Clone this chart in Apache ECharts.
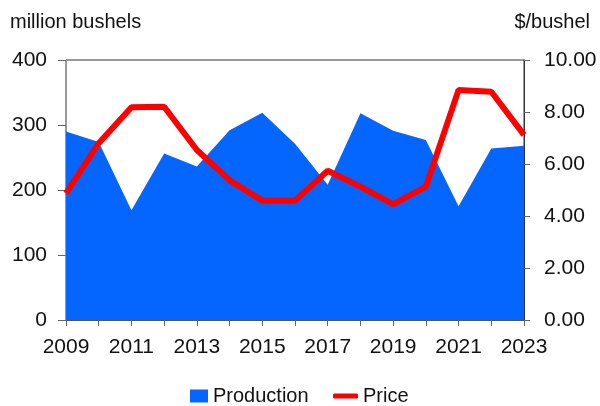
<!DOCTYPE html>
<html><head><meta charset="utf-8">
<script src="https://cdn.jsdelivr.net/npm/echarts@6/dist/echarts.min.js"></script>
<style>html,body{margin:0;padding:0;background:#fff}#c{width:600px;height:406px}</style>
</head><body><div id="c"></div>
<script>
const years = ['2009','2010','2011','2012','2013','2014','2015','2016','2017','2018','2019','2020','2021','2022','2023'];
const production = [290, 274, 169, 256, 236, 292, 319, 271, 208, 318, 291, 277, 175, 264, 268];
const price = [4.87, 6.80, 8.18, 8.20, 6.54, 5.38, 4.59, 4.59, 5.74, 5.13, 4.46, 5.13, 8.85, 8.78, 7.12];
const leftTicks = [0, 100, 200, 300, 400];
const rightTicks = [0, 2, 4, 6, 8, 10];

const font = 'Liberation Sans, Arial, sans-serif';
const chart = echarts.init(document.getElementById('c'));
chart.setOption({
  animation: false,
  textStyle: {fontFamily: font},
  grid: {left: 66, right: 76, top: 60, bottom: 86, show: true, borderColor: '#333', borderWidth: 1, backgroundColor: 'transparent'},
  graphic: [
    {type: 'text', left: 10, top: 12, style: {text: 'million bushels', font: '20px ' + font, fill: '#111'}},
    {type: 'text', right: 10, top: 12, style: {text: '$/bushel', font: '20px ' + font, fill: '#111'}}
  ],
  legend: [
    {left: 190, top: 386, padding: 0, itemWidth: 18, itemHeight: 13, itemGap: 0,
      textStyle: {fontSize: 20, color: '#111', fontFamily: font},
      data: [{name: 'Production', icon: 'rect'}]},
    {left: 333, top: 386, padding: 0, itemWidth: 25, itemHeight: 5, itemGap: 0,
      textStyle: {fontSize: 20, color: '#111', fontFamily: font},
      data: [{name: 'Price', icon: 'roundRect'}]}
  ],
  xAxis: {
    type: 'category', data: years, boundaryGap: false,
    axisLine: {show: true, lineStyle: {color: '#555'}},
    axisTick: {show: true, interval: 0, length: 6, lineStyle: {color: '#666'}},
    axisLabel: {interval: 1, fontSize: 21, color: '#111', margin: 17, fontFamily: font},
    splitLine: {show: false}
  },
  yAxis: [
    {type: 'value', min: 0, max: 400, interval: 100,
      axisLine: {show: true, lineStyle: {color: '#999'}},
      axisTick: {show: true, length: 8, lineStyle: {color: '#666'}},
      axisLabel: {fontSize: 21, color: '#111', margin: 19, fontFamily: font},
      splitLine: {show: false}},
    {type: 'value', min: 0, max: 10, interval: 2, position: 'right',
      axisLine: {show: true, lineStyle: {color: '#333'}},
      axisTick: {show: true, length: 6, lineStyle: {color: '#666'}},
      axisLabel: {fontSize: 21, color: '#111', margin: 20, fontFamily: font, formatter: v => v.toFixed(2)},
      splitLine: {show: false}}
  ],
  series: [
    {name: 'Production', type: 'line', data: production, yAxisIndex: 0, symbol: 'none',
      lineStyle: {width: 0}, itemStyle: {color: '#0566ff'}, areaStyle: {color: '#0566ff', opacity: 1}},
    {name: 'Price', type: 'line', data: price, yAxisIndex: 1, symbol: 'none',
      lineStyle: {width: 6, color: '#ff0000'}, itemStyle: {color: '#ff0000'}}
  ]
});
</script></body></html>
